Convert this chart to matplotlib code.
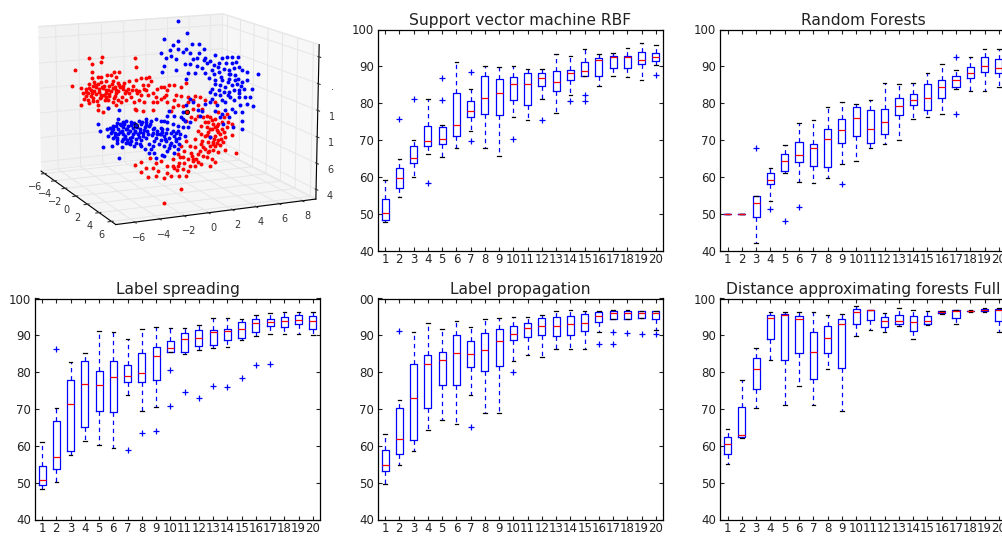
import matplotlib
matplotlib.use('Agg')
import matplotlib.pyplot as plt
from mpl_toolkits.mplot3d import Axes3D

W, H = 1003, 536
plt.rcParams['font.family'] = 'DejaVu Sans'

ticks = list(range(1, 21))
svm = [(47.8,48.3,50.3,53.9,59.2,[]),(54.6,57.1,59.6,62.4,64.8,[75.6]),(59.9,63.7,65.2,68.5,70.1,[81]),(66.3,68.5,69.6,73.8,81,[58.4]),
(65.4,68.8,70.4,73.5,74,[80.9,86.9]),(67.9,71.2,74,82.7,91.2,[]),(72.4,76.3,77.8,80.5,83.9,[69.6,88.4]),(67.7,77.1,81.5,87.5,90.2,[]),
(65.6,76.8,82.7,86.5,89.9,[]),(76.3,80.8,85.1,87.1,90,[70.2]),(75.5,79.4,85.1,88.3,89.4,[]),(81.1,84.6,86.9,88.1,89.2,[75.3]),
(77.3,83.2,85.7,88.6,93.4,[]),(82.2,86.3,88.1,89.1,92.7,[80.5]),(87.4,87.5,88.8,91.1,94.8,[80.7,82.1]),(84.6,87.3,91.8,92.2,93.4,[]),
(87.4,89.5,92.5,92.7,93.7,[]),(87.1,89.6,92.5,92.8,95.1,[]),(86.3,90.6,91.8,94,96.2,[]),(90.4,91.4,92.4,93.7,95.9,[87.7])]
rf = [(50,50,50,50,50,[]),(50,50,50,50,50,[]),(42.1,49.2,52.8,54.8,54.9,[67.7]),(53.4,58,59.2,61,62.3,[51.2]),(61,61.5,64.4,66.1,68.6,[47.9]),
(58.7,64,65.8,69.4,74.5,[51.7]),(58.4,63,67.7,68.9,75.3,[]),(59.7,62.8,70.2,73,78.9,[]),(63.6,69.2,72.7,75.6,80.2,[58]),(64.2,71,76.1,78.9,79.7,[]),
(67.9,69.3,72.9,78.1,80.8,[]),(68.9,71.5,74.8,78.5,85.4,[]),(69.9,76.7,79.1,81.4,85.1,[]),(75.7,79.5,80.8,82.5,85.5,[]),(76.3,78.1,81.3,85.1,88.1,[]),
(77,81.4,84.4,86.2,90.6,[]),(83.9,84.5,86.2,87.4,88.9,[77.1,92.4]),(83.3,86.9,88.2,89.8,92.4,[]),(83.3,88.4,90.2,92.6,94.7,[]),(84.3,88.2,89.6,91.9,94.6,[])]
spread = [(48.2,49.3,50.8,54.4,61,[]),(50.2,53.8,57.1,66.7,70.2,[86.3]),(57.4,58.5,71.3,77.9,82.7,[]),(61.3,65,76.8,83.1,85.3,[]),(60.2,69.4,76.5,80.2,91.2,[]),
(59.4,69.2,78.6,83,90.8,[]),(73.8,77.3,78.9,82,88.9,[58.9]),(69.5,77.3,79.9,85.2,91.7,[63.4]),(70.6,78,84.3,86.8,92.2,[64]),(85.4,85.5,86.6,88.4,91.9,[70.7,80.7]),
(85,85.5,88.9,90.6,92.1,[74.7]),(86.1,87.1,89.2,91.4,92.7,[73]),(86.5,87.4,90.8,91.4,94.6,[76.2]),(86.9,88.7,91.3,91.8,94.7,[76.1]),(88.8,89.2,91.6,93.6,94.5,[78.4]),
(89.8,90.8,93.3,94.3,95.6,[81.9]),(90.4,92.4,93.6,94.4,96,[82.3]),(90.3,92.3,93.8,95,96.2,[]),(90.3,93,94.1,95.4,96.2,[]),(90.2,91.6,93.9,95.2,96.2,[])]
prop = [(49.6,53.3,54.7,59,63.3,[]),(54.8,57.8,61.8,70.2,72.4,[91.1]),(58.6,61.5,72.9,82.1,90.8,[]),(64.2,70.4,82.1,84.7,93.4,[]),(67,76.4,83.2,85.4,91.6,[]),
(65.8,76.5,85.1,90,93.9,[]),(73.9,81.3,84.9,88.4,92.3,[65.2]),(68.8,80.4,86,90.6,94.4,[]),(69,81.7,88.4,91.7,94.6,[]),(83,88.6,90.3,92.6,94.9,[80.1]),
(84.7,89.6,92.1,93.3,94.9,[]),(84,90.1,92.5,94.7,95.5,[]),(86.2,89.8,92.4,95,96.5,[]),(86.2,90,93.2,95.2,96.8,[]),(86.3,91.2,93.4,95.8,96.7,[]),
(90.9,93.5,95.2,96.3,96.7,[87.6]),(94.3,94.3,96,96.6,96.8,[87.6,90.9]),(94.3,94.4,96,96.5,96.8,[90.5]),(94.6,94.7,96,96.5,96.7,[90.4]),(91.5,94.3,96,96.6,96.7,[90.4])]
dist = [(55.2,57.9,60.6,62.5,64.5,[]),(62,62.4,63,70.5,77.8,[]),(70.2,75.5,80.8,83.8,86.5,[]),(83.2,88.9,94.7,95.5,96.2,[]),(71.1,83.2,95.4,95.9,96.2,[]),
(76.3,85.2,94.3,95.3,96.2,[]),(71,78.2,85.4,90.9,96.2,[]),(80.9,85.1,89.3,92.4,95.5,[]),(69.5,81.2,93,94.4,95.7,[]),(89.9,93.1,96.4,97.2,98,[]),
(91.5,94.1,96.9,97,97,[]),(90.9,92.3,93.9,95,96,[]),(92.5,93,93.8,95.6,97.3,[]),(88.9,91.3,93.6,95.3,96.9,[]),(92.7,93.2,93.9,95.2,96.6,[]),
(95.9,96.1,96.4,96.6,96.7,[]),(93,94.6,96.5,96.9,97,[]),(96.4,96.5,96.6,96.7,96.8,[]),(96.2,96.6,97,97.2,97.3,[]),(90.8,93.9,97,97.2,97.3,[])]

red_y = [-7.79,-6.62,-5.50,-6.32,-5.59,-6.38,-6.41,-8.14,-2.56,-2.50,-4.41,-3.97,-5.06,-5.88,-5.59,-4.70,-4.26,-2.50,-2.06,-1.62,-1.32,-1.18,-1.47,-1.91,-1.76,-2.21,-3.09,-3.53,-4.12,-4.56,-5.15,-5.59,-6.17,-6.62,-7.35,-7.20,-6.91,-6.47,-6.03,-5.73,-5.29,-4.85,-4.41,-3.97,-3.68,-3.23,-2.79,-2.50,-2.06,-1.47,-1.03,-0.74,-7.35,-6.32,-5.88,-5.88,-5.44,-5.00,-4.56,-4.12,-4.26,-3.82,-3.38,-2.94,-2.65,-2.21,-1.76,-1.03,-0.59,-0.29,0,-0.59,-0.29,0,0.44,0.88,1.47,1.91,0.29,0.15,-6.03,-5.59,-5.15,-4.70,-4.26,-6.91,-6.47,-7.06,-6.62,-5.29,-5.00,-3.53,-3.09,-2.65,-1.91,-1.03,-2.50,
-6.32,-5.88,-5.44,-5.00,-4.56,-6.76,-5.73,-4.41,-6.17,-5.15,
1.03,1.47,2.06,2.65,3.09,3.53,0.88,0.29,0.74,0.59,1.18,1.62,2.06,2.50,2.94,3.23,2.50,1.91,2.35,2.65,2.94,3.38,3.68,3.97,4.41,4.70,4.41,5.44,5.15,5.59,5.88,3.82,4.26,4.70,3.68,4.12,4.56,5.00,5.44,5.88,5.29,4.85,4.41,3.97,3.53,3.23,2.65,1.91,1.47,2.21,2.65,3.23,3.82,4.26,4.70,5.15,3.97,4.41,4.85,5.29,3.53,3.82,4.26,4.70,3.38,2.94,2.35,1.76,1.18,1.62,2.06,2.50,2.94,3.68,4.12,4.41,3.97,3.23,2.65,2.21,1.76,1.32,0.74,0.29,0.88,1.18,1.62,-0.29,-0.74,-1.32,-2.06,-1.62,-1.03,-0.59,-2.65,-2.06,-1.47,-0.74,0,0.59,1.32,1.91,2.06,1.47,0,6.26,2.50,0.74,0.29,
-6.9,-6.6,-6.4,-6.1,-5.8,-5.5,-5.2,-4.9,-4.6,-4.3,-4.0,-3.7,-3.4,-6.7,-6.3,-6.0,-5.6,-5.3,-4.9,-4.5,-4.1,-3.8,-2.9,-2.4,-1.6,
3.2,3.5,3.8,4.1,4.4,4.7,5.0,3.3,3.7,4.0,4.3,4.6,4.9,5.2,2.9,3.1,3.4,3.9,4.2,4.6,2.4,2.8,1.4,1.1]
red_z = [12.64,13.40,13.46,13.02,13.06,12.40,12.02,11.56,13.19,12.51,12.29,12.25,12.09,12.03,12.00,12.06,11.94,11.55,11.66,11.67,11.70,11.39,11.15,11.19,10.88,10.76,11.55,11.45,11.50,11.67,11.72,11.62,11.67,11.58,11.34,11.00,11.23,11.12,11.28,11.14,11.35,11.31,11.20,11.16,10.97,11.00,11.14,10.87,10.45,10.40,10.49,10.21,10.13,10.29,10.01,9.63,9.46,9.69,10.15,10.24,9.87,10.09,10.18,10.39,9.99,10.08,9.92,9.86,9.82,10.04,10.15,10.78,10.93,10.91,11.00,10.96,10.79,11.00,10.64,10.27,10.78,10.74,10.83,10.92,10.75,10.72,10.69,10.49,10.20,10.34,10.32,10.69,10.66,9.49,9.22,9.23,9.35,
11.43,11.52,11.18,11.00,11.11,10.96,10.50,10.52,11.04,10.51,
10.19,10.08,9.98,9.98,9.89,9.61,9.83,9.75,9.33,9.09,9.42,9.34,9.60,9.69,9.28,9.00,9.06,8.22,8.44,8.29,8.52,8.36,8.45,8.31,8.14,8.62,9.40,8.44,8.21,7.80,7.64,7.94,7.78,7.74,7.57,7.41,7.25,7.34,7.43,6.76,6.68,6.97,6.88,6.79,6.96,7.10,6.77,6.71,6.37,6.31,6.14,6.35,6.42,6.39,6.48,6.31,6.16,6.12,6.09,5.67,5.95,5.66,5.76,5.59,5.45,5.62,5.78,5.96,5.76,5.48,5.31,5.14,4.99,5.30,5.14,4.86,4.64,4.83,4.75,4.79,5.08,5.12,5.42,4.95,4.78,4.87,4.59,5.37,5.29,5.72,5.45,4.98,4.94,4.65,5.32,4.77,4.34,4.33,4.09,4.17,4.11,4.06,4.43,3.09,2.20,5.41,5.27,4.91,4.45,
11.0,11.3,10.9,11.45,10.95,11.25,11.05,10.75,11.45,10.95,11.3,11.2,10.85,10.45,10.55,10.3,10.55,10.7,10.55,10.4,10.85,10.45,10.85,10.6,10.75,
7.7,8.0,7.2,8.05,7.55,7.1,7.85,6.6,6.95,7.4,6.65,7.6,6.6,7.05,7.35,5.85,6.1,5.75,6.25,6.3,5.55,5.25,5.55,4.55]

blue_y = [1.23,1.97,0.03,0.74,1.18,2.35,3.0,-0.29,0.53,1.18,1.62,2.21,1.91,3.38,0.59,0.15,1.03,2.5,2.79,3.53,3.97,4.41,5.0,5.44,5.88,6.41,1.76,2.21,0,-0.15,1.03,2.06,1.91,2.79,3.23,3.68,4.26,4.70,5.29,5.88,6.17,6.47,6.76,7.2,8.17,2.65,3.53,4.12,4.70,5.59,5.73,3.82,4.41,5.0,5.59,6.17,4.41,4.85,4.12,5.29,5.88,6.32,6.76,7.2,6.91,7.64,6.47,6.03,5.59,5.15,3.97,4.41,4.85,5.73,6.47,7.06,7.5,4.12,5.0,5.29,6.03,7.2,7.79,6.62,5.88,5.29,4.56,3.97,3.53,3.23,3.09,4.41,5.0,4.85,5.59,6.17,6.76,6.82,6.82,5.15,6.03,2.21,2.5,1.91,1.62,1.47,1.76,2.94,
-5.88,-5.73,-5.44,-4.06,-4.85,-5.15,-4.56,-4.12,-4.06,-5.0,-4.26,-3.97,-3.68,-3.38,-2.94,-2.06,-1.62,-1.18,-0.74,-4.70,-4.41,-4.12,-3.68,-3.23,-2.79,-2.21,-1.76,-1.32,-0.88,-0.29,0.29,0.74,1.18,1.62,-5.0,-4.56,-4.12,-3.68,-3.23,-2.79,-2.35,-1.91,-1.47,-1.03,-0.59,-0.15,0.29,0.74,1.18,-0.29,0,0.44,0.88,1.32,1.76,-4.70,-4.26,-3.82,-3.38,-2.94,-2.5,-2.06,-1.62,-0.74,-0.29,0.15,0.59,1.03,-3.82,-3.09,-2.5,-2.06,-1.76,-1.32,-1.03,-0.44,0,0.44,0.88,1.32,-1.32,-0.88,-0.15,-0.74,0.29,0.88,1.18,0,2.06,2.21,0,-3.38,-3.82,-4.26,-2.65,-3.53,-3.09,-2.21,-1.62,0.29,0.88,0.44,-0.29,1.62,3.97,
-4.6,-4.3,-3.9,-3.6,-3.3,-3.0,-2.7,-2.4,-2.0,-1.6,-1.3,-1.0,-4.8,-4.4,-4.0,-3.5,-3.1,-2.6,-2.2,-1.8,-1.5,-1.1,-0.6,-0.2,0.2,0.6,1.0,1.4,-4.2,-3.7,-3.4,-2.9,-2.3,-1.9,-0.9,-0.4,0.1,0.5,1.0,-3.2,-2.7,-2.2,-1.2,
4.6,5.2,5.6,6.0,6.4,4.9,5.5,6.1,6.7,4.3,4.7,5.5,6.5,3.4,3.0]
blue_z = [15.61,14.66,14.39,13.88,14.17,13.86,13.81,13.40,13.57,13.59,13.30,13.25,13.53,13.46,13.13,12.99,12.84,12.72,12.82,12.76,12.47,12.94,12.64,12.73,12.69,12.65,12.45,12.42,12.42,12.0,12.08,11.75,11.33,12.19,12.03,12.37,12.20,12.29,12.24,12.19,12.29,11.88,11.61,11.44,11.19,11.70,11.63,11.83,11.65,11.71,11.44,11.22,11.04,11.0,11.08,11.28,10.79,10.63,10.44,10.47,10.54,10.64,10.73,10.81,10.21,10.15,10.12,10.16,10.07,10.10,10.20,10.03,9.88,9.67,9.61,9.56,9.53,9.68,9.49,9.33,9.40,9.05,8.87,8.97,8.78,8.70,9.14,9.44,9.36,8.87,8.50,8.77,8.47,8.24,8.18,8.50,8.45,7.74,7.18,7.70,7.38,9.84,9.56,9.36,8.88,8.52,8.23,8.90,
8.62,8.11,6.89,6.0,8.28,8.18,8.38,8.85,9.48,9.74,8.56,8.46,8.57,8.66,8.50,8.30,8.39,8.48,8.57,8.02,7.87,8.09,8.19,8.27,8.11,7.93,8.03,8.11,7.95,8.40,8.24,8.07,7.90,7.75,7.67,7.50,7.71,7.68,7.77,7.60,7.57,7.66,7.49,7.59,7.68,7.76,7.73,7.57,7.53,7.39,7.25,7.08,7.18,7.01,7.10,6.88,7.09,7.19,7.27,7.11,7.20,7.16,7.25,7.18,7.01,6.86,6.69,6.78,6.76,6.88,6.95,6.71,6.44,6.73,6.58,6.66,6.49,6.32,6.42,6.51,6.09,6.05,5.87,5.67,6.09,5.91,6.14,5.73,7.71,8.08,8.38,8.03,7.95,7.47,7.85,7.54,7.38,8.56,8.64,8.74,8.69,9.10,7.90,8.38,6.79,
8.12,8.33,8.36,8.44,8.05,8.29,8.40,8.14,8.47,8.18,8.28,7.82,7.85,7.62,7.85,7.42,7.90,7.74,7.72,7.82,7.72,7.42,7.48,7.55,7.46,7.38,7.40,7.30,7.30,7.36,7.02,7.44,7.36,7.38,6.98,7.40,7.05,6.55,6.95,6.98,6.72,6.84,6.40,
12.0,11.85,11.4,11.85,11.0,11.25,10.85,10.9,10.45,11.5,10.3,9.85,9.9,12.65,13.15]

ring_y = [-2.5, 2.0]
ring_z = [8.21, 8.84]
ring_c = ['#0000ff', '#ff0000']

x_ticks3 = list(range(-6, 7, 2))
y_ticks3 = list(range(-6, 9, 2))
z_ticks3 = list(range(4, 15, 2))
z_labels3 = ['4', '6', '1', '1', '\u00b7', '']

fig = plt.figure(figsize=(W/100, H/100), dpi=100)

def rect(l, t, r, b):
    return [l/W, 1-b/H, (r-l)/W, (b-t)/H]

def panel(box, stats, title, top_label='100'):
    ax = fig.add_axes(rect(*box))
    rows = [dict(whislo=s[0], q1=s[1], med=s[2], q3=s[3], whishi=s[4], fliers=s[5]) for s in stats]
    ax.bxp(rows, positions=ticks, widths=0.5, manage_ticks=False,
           boxprops=dict(color='#0000ff', lw=0.9),
           medianprops=dict(color='#ff0000', lw=0.9),
           whiskerprops=dict(color='#0000ff', lw=0.9, ls=(0, (3.5, 3))),
           capprops=dict(color='black', lw=0.9),
           flierprops=dict(marker='+', markeredgecolor='#0000ff', markersize=4, markeredgewidth=0.9))
    ax.set_xlim(0.5, 20.5)
    ax.set_ylim(40, 100)
    ax.set_xticks(ticks)
    ax.set_yticks(range(40, 101, 10))
    ax.set_yticklabels(['40','50','60','70','80','90',top_label])
    ax.tick_params(direction='in', top=True, right=True, length=3, width=0.8, labelsize=8.5, pad=3, colors='#222222')
    ax.tick_params(axis='x', pad=1.5)
    ax.set_title(title, fontsize=11.2, pad=3, color='#222222')
    for s in ax.spines.values():
        s.set_linewidth(0.9)
    return ax

panel((378, 29.5, 663, 250.5), svm, 'Support vector machine RBF')
panel((720.5, 29.5, 1006, 250.5), rf, 'Random Forests')
panel((35, 298.5, 320, 519.5), spread, 'Label spreading')
panel((378, 298.5, 663, 519.5), prop, 'Label propagation', top_label='00')
panel((720.5, 298.5, 1006, 519.5), dist, 'Distance approximating forests Full')

# The depth of a 3D point cannot be read from a picture, so the points sit on the plane x = 0;
def plane_y(v):
    return [a * (0.95 if a < 0 else 1.02) for a in v]

def plane_z(v):
    return [8.6 + (a - 8.6) * 1.05 for a in v]

ax3 = fig.add_axes(rect(-10, -23, 350, 252), projection='3d', computed_zorder=False)
ax3.view_init(elev=12.5, azim=-24)
ax3.set_box_aspect((4, 4, 2.91), zoom=1.18)
ax3.set_xlim(-6.7, 6.7)
ax3.set_ylim(-7.5, 9.2)
ax3.set_zlim(3.25, 14.9)
ax3.set_xticks(x_ticks3)
ax3.set_yticks(y_ticks3)
ax3.set_zticks(z_ticks3)
ax3.set_zticklabels(z_labels3)
ax3.tick_params(labelsize=7, colors='#333333', pad=-3)
ax3.tick_params(axis='z', pad=-3.2)
for a, pc in ((ax3.xaxis, 0.95), (ax3.yaxis, 0.97), (ax3.zaxis, 0.96)):
    a.set_pane_color((pc, pc, pc, 1.0))
    a.pane.set_edgecolor((0.9, 0.9, 0.9, 1))
    a._axinfo['grid']['color'] = (0.9, 0.9, 0.9, 1)
    a._axinfo['grid']['linewidth'] = 0.7
ax3.scatter(plane_y(red_y), plane_z(red_z), zs=0, zdir='x', c='#ff0000', s=8, linewidths=0, depthshade=False)
ax3.scatter(plane_y(blue_y), plane_z(blue_z), zs=0, zdir='x', c='#0000ff', s=8, linewidths=0, depthshade=False)
ax3.scatter(plane_y(ring_y), plane_z(ring_z), zs=0, zdir='x', c=ring_c, s=10, edgecolors='black', linewidths=0.6, depthshade=False)

fig.savefig('out.png', dpi=100)
